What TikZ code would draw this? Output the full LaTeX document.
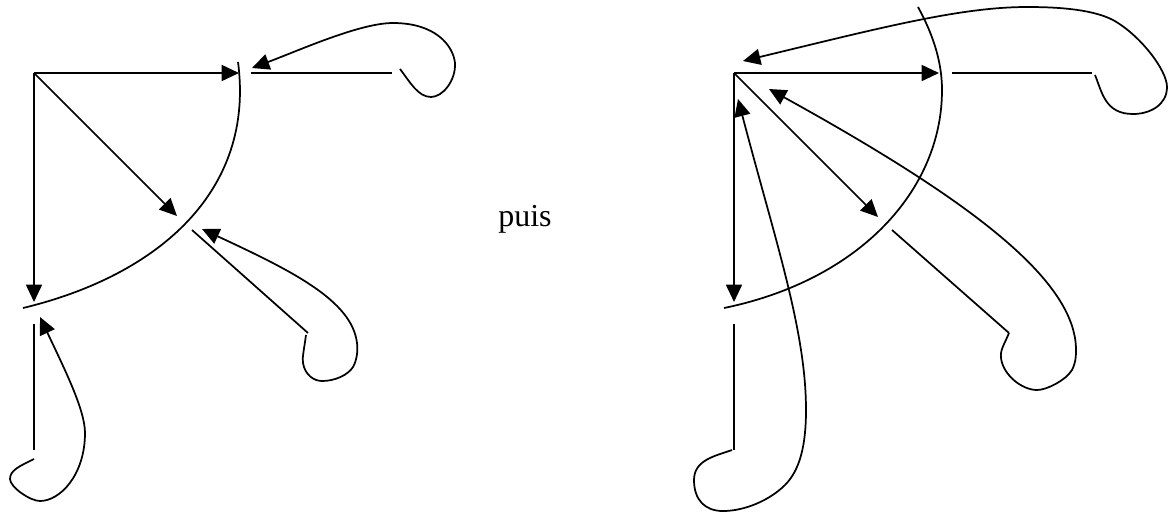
\documentclass[tikz,border=0pt]{standalone}
\usepackage{fontspec}
\setmainfont{Liberation Serif}
\usetikzlibrary{arrows.meta}
\tikzset{fleche/.style={-{Triangle[length=13pt,width=12pt]}}}
\begin{document}
\begin{tikzpicture}[x=0.75pt,y=-0.75pt,line width=1.3pt]
      \useasboundingbox (0, 0) rectangle (1168, 512);
      % gauche
      \coordinate (O) at (34, 73);
      \coordinate (A) at (239, 73);
      \coordinate (B) at (177, 216);
      \coordinate (C) at (34, 302);
      \draw[fleche] (O) -- (A);
      \draw[fleche] (O) -- (B);
      \draw[fleche] (O) -- (C);
      \draw (238, 62) .. controls (255, 190) and (160, 275) .. (23, 308);
      \coordinate (a1) at (251, 73);
      \coordinate (a2) at (392, 73);
      \coordinate (a3) at (400, 69);
      \coordinate (a4) at (252, 68);
      \draw (a1) -- (a2);
      \draw[fleche] (a3) .. controls (410, 82) and (418, 97) .. (431, 97)
        .. controls (443, 97) and (456, 80) .. (455, 63)
        .. controls (453, 45) and (435, 23) .. (393, 23)
        .. controls (360, 23) and (300, 50) .. (a4);
      \coordinate (b1) at (192, 230);
      \coordinate (b2) at (308, 333);
      \coordinate (b3) at (306, 335);
      \coordinate (b4) at (202, 229);
      \draw (b1) -- (b2);
      \draw[fleche] (b3) .. controls (304, 350) and (302, 358) .. (303, 363)
        .. controls (305, 375) and (314, 381) .. (322, 381)
        .. controls (335, 381) and (348, 375) .. (353, 367)
        .. controls (357, 360) and (358, 350) .. (357, 343)
        .. controls (352, 300) and (290, 270) .. (b4);
      \coordinate (c1) at (34, 324);
      \coordinate (c2) at (34, 450);
      \coordinate (c3) at (34, 459);
      \coordinate (c4) at (40, 317);
      \draw (c1) -- (c2);
      \draw[fleche] (c3) .. controls (20, 466) and (10, 470) .. (10, 479)
        .. controls (10, 487) and (30, 501) .. (40, 501)
        .. controls (60, 501) and (85, 475) .. (85, 433)
        .. controls (85, 410) and (65, 370) .. (c4);
      % droite
      \node (puis) at (525, 219) {\fontsize{24pt}{26pt}\selectfont puis};
      \coordinate (P) at (734, 73);
      \coordinate (Q) at (939, 73);
      \coordinate (R) at (878, 217);
      \coordinate (S) at (734, 302);
      \draw[fleche] (P) -- (Q);
      \draw[fleche] (P) -- (R);
      \draw[fleche] (P) -- (S);
      \draw (918, 7) .. controls (935, 38) and (942, 65) .. (942, 90)
        .. controls (942, 190) and (860, 280) .. (724, 308);
      \coordinate (q1) at (952, 73);
      \coordinate (q2) at (1092, 73);
      \coordinate (q3) at (1095, 75);
      \coordinate (q4) at (743, 61);
      \draw (q1) -- (q2);
      \draw[fleche] (q3) .. controls (1102, 92) and (1105, 114) .. (1133, 114)
        .. controls (1150, 114) and (1167, 105) .. (1167, 87)
        .. controls (1167, 70) and (1140, 35) .. (1113, 20)
        .. controls (1090, 8) and (1050, 7) .. (1027, 7)
        .. controls (960, 7) and (880, 28) .. (q4);
      \coordinate (r1) at (892, 230);
      \coordinate (r2) at (1009, 333);
      \coordinate (r3) at (769, 89);
      \draw (r1) -- (r2);
      \draw[fleche] (r2) .. controls (1004, 345) and (1000, 350) .. (1001, 358)
        .. controls (1003, 375) and (1022, 390) .. (1037, 390)
        .. controls (1047, 390) and (1066, 380) .. (1072, 370)
        .. controls (1076, 362) and (1076, 355) .. (1076, 350)
        .. controls (1076, 280) and (970, 200) .. (r3);
      \coordinate (s1) at (734, 324);
      \coordinate (s2) at (734, 450);
      \coordinate (s3) at (732, 450);
      \coordinate (s4) at (738, 99);
      \draw (s1) -- (s2);
      \draw[fleche] (s3) .. controls (715, 456) and (694, 460) .. (694, 480)
        .. controls (694, 500) and (705, 511) .. (723, 511)
        .. controls (745, 511) and (770, 500) .. (785, 485)
        .. controls (800, 470) and (806, 445) .. (806, 410)
        .. controls (806, 330) and (775, 240) .. (s4);
\end{tikzpicture}
\end{document}
